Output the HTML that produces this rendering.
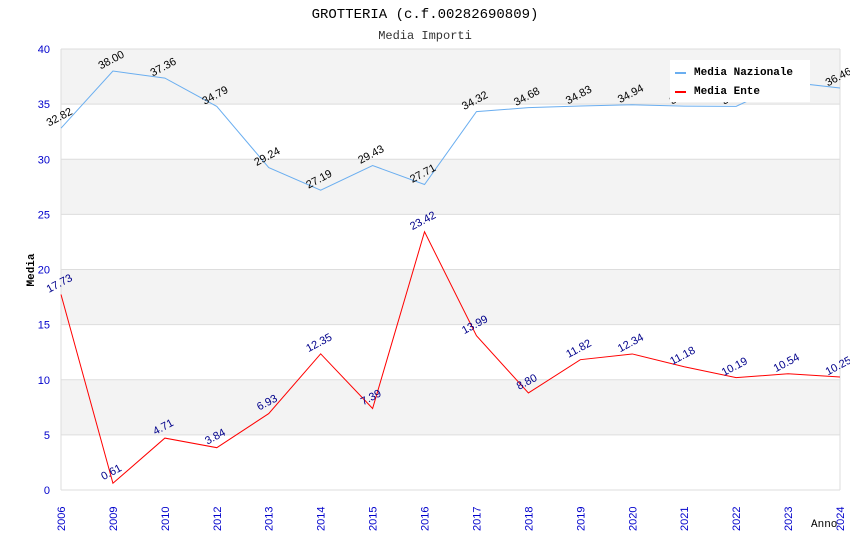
<!DOCTYPE html>
<html><head><meta charset="utf-8"><style>
body{margin:0;background:#fff;font-family:"Liberation Mono",monospace}
</style></head><body>
<svg id="c" width="850" height="550" xmlns="http://www.w3.org/2000/svg">
<text x="425" y="18" text-anchor="middle" font-size="14" font-family="Liberation Mono">GROTTERIA (c.f.00282690809)</text>
<text x="425" y="39" text-anchor="middle" font-size="12" fill="#333" font-family="Liberation Mono">Media Importi</text>
<g id="plot"></g>
</svg>
<script>
const categories=["2006","2009","2010","2012","2013","2014","2015","2016","2017","2018","2019","2020","2021","2022","2023","2024"];
const nazionale=[32.82,38.00,37.36,34.79,29.24,27.19,29.43,27.71,34.32,34.68,34.83,34.94,34.82,34.80,37.00,36.46];
const ente=[17.73,0.61,4.71,3.84,6.93,12.35,7.39,23.42,13.99,8.80,11.82,12.34,11.18,10.19,10.54,10.25];
const yTicks=[0,5,10,15,20,25,30,35,40];
const X0=61,X1=840,Y0=490,Y1=49,YMAX=40;
const NS="http://www.w3.org/2000/svg";
const g=document.getElementById('plot');
function x(i){return X0+i*(X1-X0)/(categories.length-1);}
function y(v){return Y0-v*(Y0-Y1)/YMAX;}
function mk(t,a,p){const e=document.createElementNS(NS,t);for(const k in a)e.setAttribute(k,a[k]);(p||g).appendChild(e);return e;}
for(let i=0;i<yTicks.length-1;i++){
 if(i%2==1){const r=mk('rect',{x:X0,y:y(yTicks[i+1]),width:X1-X0,height:y(yTicks[i])-y(yTicks[i+1]),fill:'#f3f3f3'});
 
 }
}
yTicks.forEach(v=>{
 const l=mk('line',{x1:X0,x2:X1,y1:y(v),y2:y(v),stroke:'#ddd'});
 
 
 const t=mk('text',{x:X0-11,y:y(v)+4,'text-anchor':'end','font-size':11,fill:'#00c','font-family':'Liberation Sans'});
 t.textContent=v;
 
 
});
mk('line',{x1:X0,x2:X0,y1:Y1,y2:Y0,stroke:'#ddd'});
mk('line',{x1:X1,x2:X1,y1:Y1,y2:Y0,stroke:'#ddd'});
categories.forEach((c,i)=>{
 const t=mk('text',{transform:`translate(${x(i)+4},531) rotate(-90)`,'font-size':11,fill:'#00c','font-family':'Liberation Sans'});
 t.textContent=c;
 
 
});
function series(vals,color,lblColor,name){
 const p=mk('polyline',{points:vals.map((v,i)=>x(i)+','+y(v)).join(' '),fill:'none',stroke:color,'stroke-width':1});
 
 
 vals.forEach((v,i)=>{
  const t=mk('text',{transform:`translate(${x(i)},${y(v)-8}) rotate(-28)`,'text-anchor':'middle','font-size':11,fill:lblColor,'font-family':'Liberation Sans'});
  t.textContent=v.toFixed(2);
  
  
 });
}
series(nazionale,'#6aaef0','#000','nazionale');
series(ente,'#f00','#00008b','ente');
const lg=mk('g',{});


mk('rect',{x:670,y:60,width:140,height:42,fill:'#fff'},lg);
mk('line',{x1:675,x2:686,y1:73,y2:73,stroke:'#6aaef0','stroke-width':2},lg);
mk('line',{x1:675,x2:686,y1:92,y2:92,stroke:'#f00','stroke-width':2},lg);
const t1=mk('text',{x:694,y:75,'font-size':11,'font-weight':'bold','font-family':'Liberation Mono'},lg);t1.textContent='Media Nazionale';


const t2=mk('text',{x:694,y:94,'font-size':11,'font-weight':'bold','font-family':'Liberation Mono'},lg);t2.textContent='Media Ente';


const yt=mk('text',{transform:'translate(34,270) rotate(-90)','text-anchor':'middle','font-size':11,'font-weight':'bold','font-family':'Liberation Mono'});
yt.textContent='Media';


const xt=mk('text',{x:811,y:527,'font-size':11,'font-family':'Liberation Mono'});
xt.textContent='Anno';


</script>
</body></html>
